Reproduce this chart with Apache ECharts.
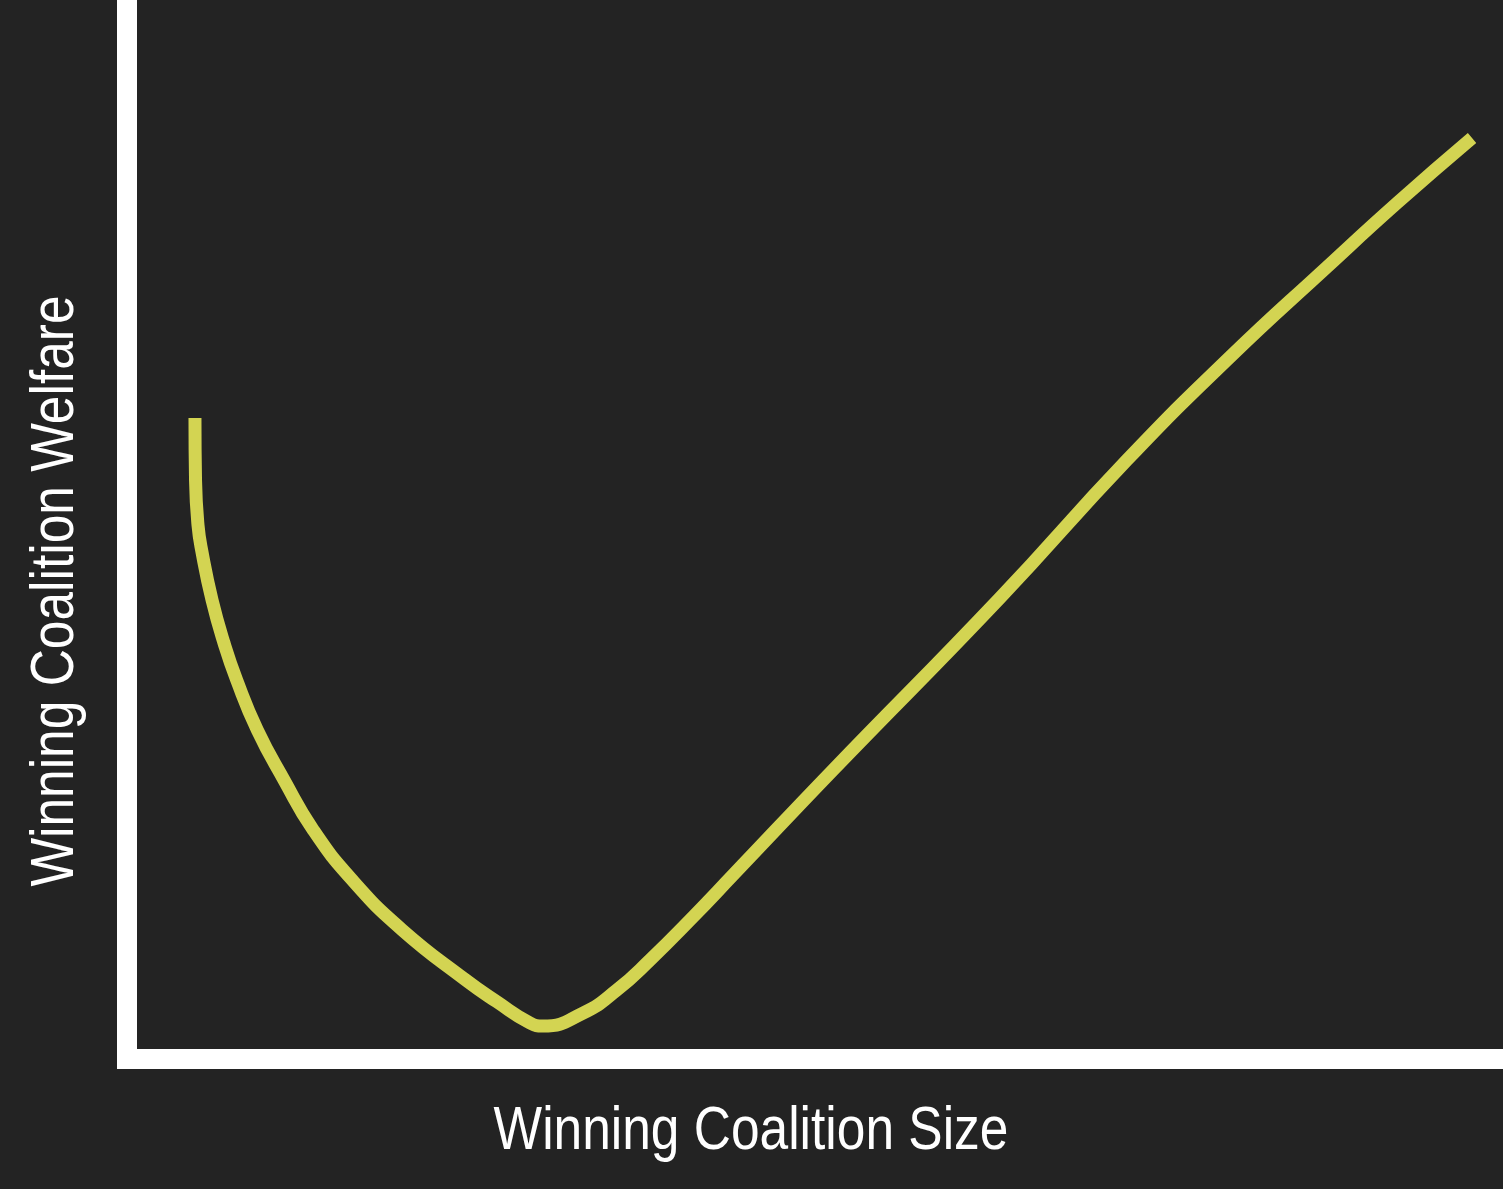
<!DOCTYPE html>
<html>
<head>
<meta charset="utf-8">
<script src="https://cdn.jsdelivr.net/npm/echarts@6/dist/echarts.min.js"></script>
<style>
  html, body { margin: 0; padding: 0; background: #232323; }
  #chart { width: 1503px; height: 1189px; }
</style>
</head>
<body>
<div id="chart"></div>
<script>
// winning coalition size (x) and welfare (y), arbitrary units 0-100
const coalitionSize = [4.94, 4.98, 5.16, 5.45, 6.18, 7.05, 7.97, 9.47, 11.41, 13.54, 16.37, 20.01, 24.62, 26.87, 29.29,
  30.23, 33.14, 35.61, 38.01, 41.13, 44.04, 51.31, 63.44, 72.67, 80.16, 87.21, 92.30, 97.75];
const coalitionWelfare = [60.53, 54.67, 50.42, 47.87, 43.34, 39.28, 35.79, 31.07, 26.35, 21.62, 16.90, 12.18, 7.46, 5.41, 3.40,
  3.12, 4.34, 6.52, 9.35, 13.41, 17.37, 27.29, 43.53, 56.56, 66.29, 74.79, 80.83, 86.97];
const xTitle = 'Winning Coalition Size';
const yTitle = 'Winning Coalition Welfare';

const curve = coalitionSize.map((x, i) => [x, coalitionWelfare[i]]);

const chart = echarts.init(document.getElementById('chart'));

const axisCommon = {
    type: 'value',
    min: 0,
    max: 100,
    axisLine: {show: true, lineStyle: {color: '#ffffff', width: 20, cap: 'square'}},
    axisTick: {show: false},
    axisLabel: {show: false},
    splitLine: {show: false}
};

// narrow look: Liberation Sans squeezed horizontally
const titleFont = {
    fill: '#ffffff',
    fontSize: 62,
    fontFamily: '"Liberation Sans", Arial, sans-serif',
    textAlign: 'center',
    textVerticalAlign: 'middle'
};

chart.setOption({
    backgroundColor: '#232323',
    animation: false,
    grid: {left: 127, right: 0, top: 0, bottom: 130},
    xAxis: axisCommon,
    yAxis: axisCommon,
    series: [{
        type: 'line',
        data: curve,
        smooth: 0.5,
        showSymbol: false,
        lineStyle: {color: '#d3d452', width: 13, cap: 'butt'}
    }],
    graphic: [
        {type: 'text', x: 751, y: 1132, scaleX: 0.83, style: Object.assign({text: xTitle}, titleFont)},
        {type: 'text', x: 56, y: 591, scaleX: 0.83, rotation: Math.PI / 2, style: Object.assign({text: yTitle}, titleFont)}
    ]
});
</script>
</body>
</html>
